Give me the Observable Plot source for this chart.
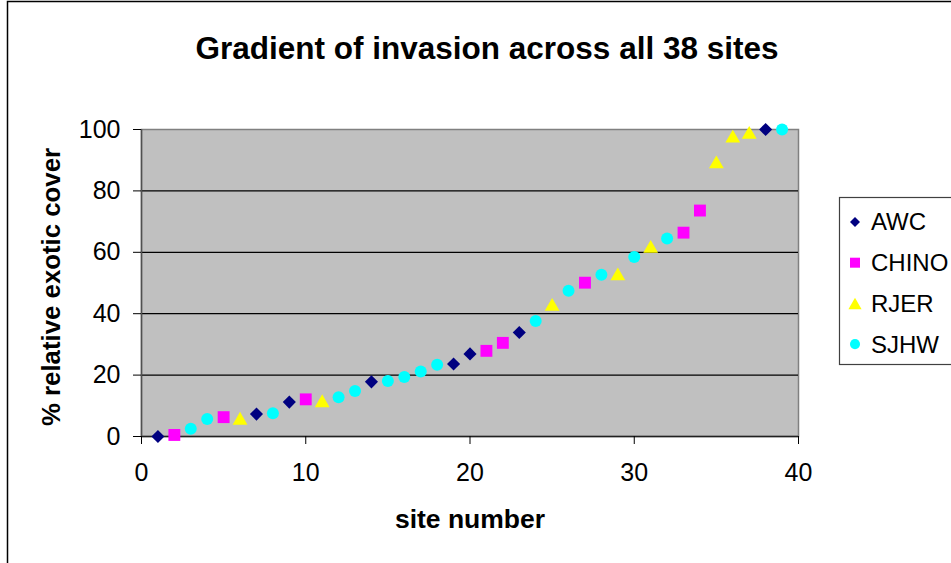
<!DOCTYPE html>
<html>
<head>
<meta charset="utf-8">
<script src="https://cdn.jsdelivr.net/npm/d3@7"></script>
<script src="https://cdn.jsdelivr.net/npm/@observablehq/plot@0.6"></script>
<style>
  html, body { margin: 0; padding: 0; background: white; }
  svg { display: block; }
</style>
</head>
<body>
<div id="chart"></div>
<script>
// ---- data ----
const titleText = "Gradient of invasion across all 38 sites";
const xLabel = "site number";
const yLabel = "% relative exotic cover";
const xTicks = [0, 10, 20, 30, 40];
const yTicks = [0, 20, 40, 60, 80, 100];
const gridValues = [20, 40, 60, 80];

const seriesNames = ["AWC", "CHINO", "RJER", "SJHW"];

const awcSite = [1, 7, 9, 14, 19, 20, 23, 38];
const awcCover = [0, 7.3, 11.2, 17.8, 23.6, 26.9, 33.9, 100];

const chinoSite = [2, 5, 10, 21, 22, 27, 33, 34];
const chinoCover = [0.5, 6.3, 12.1, 27.9, 30.5, 50.1, 66.4, 73.6];

const rjerSite = [6, 11, 25, 29, 31, 35, 36, 37];
const rjerCover = [5.9, 11.6, 43.0, 52.9, 61.9, 89.4, 97.8, 99.0];

const sjhwSite = [3, 4, 8, 12, 13, 15, 16, 17, 18, 24, 26, 28, 30, 32, 39];
const sjhwCover = [2.5, 5.7, 7.6, 12.8, 14.8, 18.1, 19.4, 21.2, 23.4, 37.6, 47.5, 52.7, 58.5, 64.5, 100];

// ---- build tables ----
const toRows = (xs, ys, name) => xs.map((x, i) => ({site: x, cover: ys[i], series: name}));
const awc = toRows(awcSite, awcCover, "AWC");
const chino = toRows(chinoSite, chinoCover, "CHINO");
const rjer = toRows(rjerSite, rjerCover, "RJER");
const sjhw = toRows(sjhwSite, sjhwCover, "SJHW");

const colors = {AWC: "#000080", CHINO: "#FF00FF", RJER: "#FFFF00", SJHW: "#00FFFF"};

const font = "'Liberation Sans', Arial, sans-serif";

const chart = Plot.plot({
  width: 951,
  height: 563,
  marginLeft: 141,
  marginRight: 153,
  marginTop: 129,
  marginBottom: 127,
  style: {fontFamily: font, background: "white", color: "black", overflow: "hidden"},
  x: {domain: [0, 40]},
  y: {domain: [0, 100]},
  marks: [
    Plot.frame({fill: "#C0C0C0", stroke: "#808080", strokeWidth: 1.5}),
    Plot.ruleY(gridValues, {stroke: "black", strokeWidth: 1.2}),
    Plot.ruleY([0], {stroke: "#202020", strokeWidth: 1.5}),
    Plot.ruleX([0], {stroke: "#505050", strokeWidth: 1.5}),
    Plot.axisY({ticks: yTicks, tickSize: 8, tickPadding: 13, fontSize: 25, label: null, tickFormat: d => String(d)}),
    Plot.axisX({ticks: xTicks, tickSize: 8, tickPadding: 19, fontSize: 25, label: null, tickFormat: d => String(d)}),
    Plot.dot(awc, {x: "site", y: "cover", symbol: "diamond2", r: 5.9, fill: colors.AWC, stroke: "none"}),
    Plot.dot(chino, {x: "site", y: "cover", symbol: "square", r: 6.7, fill: colors.CHINO, stroke: "none"}),
    Plot.dot(rjer, {x: "site", y: "cover", symbol: "triangle", r: 5.5, dy: 2, fill: colors.RJER, stroke: "none"}),
    Plot.dot(sjhw, {x: "site", y: "cover", symbol: "circle", r: 6, fill: colors.SJHW, stroke: "none"}),
    Plot.text([titleText], {text: d => d, frameAnchor: "top", lineAnchor: "middle", textAnchor: "middle", dx: 17, dy: -81, fontSize: 31.5, fontWeight: "bold", fill: "black"}),
    Plot.text([xLabel], {text: d => d, frameAnchor: "bottom", lineAnchor: "middle", textAnchor: "middle", dx: 0, dy: 83, fontSize: 26.5, fontWeight: "bold", fill: "black"}),
    Plot.text([yLabel], {text: d => d, frameAnchor: "left", lineAnchor: "middle", textAnchor: "middle", rotate: -90, dx: -90, dy: 4, fontSize: 25.8, fontWeight: "bold", fill: "black"})
  ]
});

document.getElementById("chart").appendChild(chart);

// ---- outer chart border and legend ----
const svg = d3.select(chart);
svg.append("rect")
  .attr("x", 7.5).attr("y", 1.5).attr("width", 980).attr("height", 600)
  .attr("fill", "none").attr("stroke", "black").attr("stroke-width", 1.5);

const legend = svg.append("g");
legend.append("rect")
  .attr("x", 839.5).attr("y", 197.5).attr("width", 150).attr("height", 167)
  .attr("fill", "white").attr("stroke", "#404040").attr("stroke-width", 1.2);

const legendSymbols = {
  AWC: d3.symbol(d3.symbolDiamond2, 64),
  CHINO: d3.symbol(d3.symbolSquare, 100),
  RJER: d3.symbol(d3.symbolTriangle, 75),
  SJHW: d3.symbol(d3.symbolCircle, 80)
};
seriesNames.forEach((name, i) => {
  const cy = 222 + i * 40.7;
  legend.append("path")
    .attr("d", legendSymbols[name]())
    .attr("transform", `translate(855,${cy + (name === "RJER" ? 2 : 0)})`)
    .attr("fill", colors[name]);
  legend.append("text")
    .attr("x", 871).attr("y", cy).attr("dy", "0.35em")
    .attr("text-anchor", "start")
    .attr("font-family", font).attr("font-size", 24).attr("fill", "black")
    .text(name);
});
</script>
</body>
</html>
